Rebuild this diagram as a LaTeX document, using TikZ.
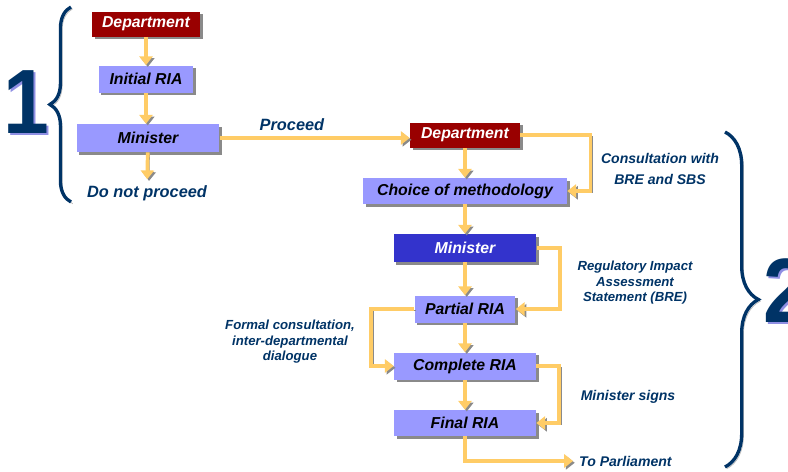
\documentclass[tikz,border=0pt]{standalone}
\usepackage{fontspec}
\setmainfont{Liberation Sans}
\usetikzlibrary{arrows.meta, shadows, decorations.pathreplacing}
\definecolor{boxblue}{HTML}{9999FF}
\definecolor{deptred}{HTML}{990000}
\definecolor{minblue}{HTML}{3333CC}
\definecolor{flowgold}{HTML}{FFCC66}
\definecolor{navy}{HTML}{003366}
\definecolor{shade}{HTML}{8A8A8A}
\tikzstyle{stage} = [rectangle, minimum height=0.54cm, inner sep=0pt, text centered, fill=boxblue, font=\fontsize{9}{10}\selectfont\bfseries\itshape, drop shadow={shadow xshift=1.6pt, shadow yshift=-1.6pt, fill=shade, opacity=1}]
\tikzstyle{dept} = [stage, fill=deptred, text=white, minimum height=0.5cm]
\tikzstyle{decider} = [stage, fill=minblue, text=white, minimum height=0.56cm]
\tikzstyle{note} = [text=navy, align=center, font=\fontsize{8}{12}\selectfont\bfseries\itshape]
\tikzstyle{smallnote} = [note, font=\fontsize{7.5}{8.8}\selectfont\bfseries\itshape]
\tikzstyle{bignote} = [note, font=\fontsize{9.3}{11}\selectfont\bfseries\itshape]
\tikzstyle{bignum} = [text=navy, xscale=0.9, font=\fontsize{52}{52}\selectfont\bfseries]
\tikzstyle{numshade} = [bignum, text=minblue!55]
\tikzstyle{arrow} = [line width=2.1pt, draw=flowgold, ->, >={Triangle[width=7.5pt,length=5pt]}, preaction={draw=shade, transform canvas={shift={(1pt,-1pt)}}}]
\tikzstyle{brace} = [decorate, decoration={brace, amplitude=12pt}, draw=navy, line width=1.9pt, preaction={draw=shade!60, transform canvas={shift={(1pt,-1pt)}}}]

\begin{document}
\begin{tikzpicture}[x=0.02cm, y=-0.02cm]
    \useasboundingbox (0,0) rectangle (788,471);

    % stage 1
    \node [dept, minimum width=2.16cm] at (146,24) (dept1) {Department};
    \node [stage, minimum width=1.9cm] at (146,79) (ria1) {Initial RIA};
    \node [stage, minimum width=2.86cm, minimum height=0.56cm] at (148,138) (min1) {Minister};
    \node [bignote] at (147,193) (stop) {Do not proceed};

    % stage 2
    \node [dept, minimum width=2.2cm] at (465,135) (dept2) {Department};
    \node [stage, minimum width=4.08cm, minimum height=0.52cm] at (465,191) (method) {Choice of methodology};
    \node [decider, minimum width=2.86cm] at (465,248) (min2) {Minister};
    \node [stage, minimum width=2.02cm] at (465,309) (partial) {Partial RIA};
    \node [stage, minimum width=2.84cm] at (465,366) (complete) {Complete RIA};
    \node [stage, minimum width=2.84cm, minimum height=0.52cm] at (465,423) (final) {Final RIA};

    \node [note] at (660,169) (consult) {Consultation with\\BRE and SBS};
    \node [smallnote] at (635,283) (ris) {Regulatory Impact\\Assessment\\Statement (BRE)};
    \node [smallnote] at (290,342) (formal) {Formal consultation,\\inter-departmental\\dialogue};
    \node [note] at (628,397) (signs) {Minister signs};
    \node [note, anchor=west] at (573,461) (parl) {To Parliament};

    % numbers and braces
    \node [numshade] at (28,104) (oneshade) {1};
    \node [bignum] at (26,102) (one) {1};
    \node [numshade] at (788,293) (twoshade) {2};
    \node [bignum] at (786,291) (two) {2};
    \draw [brace] (71,202) -- (71,7);
    \draw [brace, decoration={amplitude=19pt}] (725,132) -- (725,467);

    \draw [arrow] (dept1) -- (ria1);
    \draw [arrow] (ria1) -- (ria1 |- min1.north);
    \draw [arrow] (min1) -- (stop);
    \draw [arrow] (min1) -- node[bignote, above, pos=0.38] (go) {Proceed} (min1 -| dept2.west);
    \draw [arrow] (dept2) -- (method);
    \draw [arrow] (dept2.east) -- ++(70,0) |- (method.east);
    \draw [arrow] (method) -- (min2);
    \draw [arrow] (min2.east) -- ++(23,0) |- (partial.east);
    \draw [arrow] (min2) -- (partial);
    \draw [arrow] (partial.west) -- ++(-43,0) |- (complete.west);
    \draw [arrow] (partial) -- (complete);
    \draw [arrow] (complete.east) -- ++(23,0) |- (final.east);
    \draw [arrow] (complete) -- (final);
    \draw [arrow] (final) |- (parl);
\end{tikzpicture}
\end{document}
